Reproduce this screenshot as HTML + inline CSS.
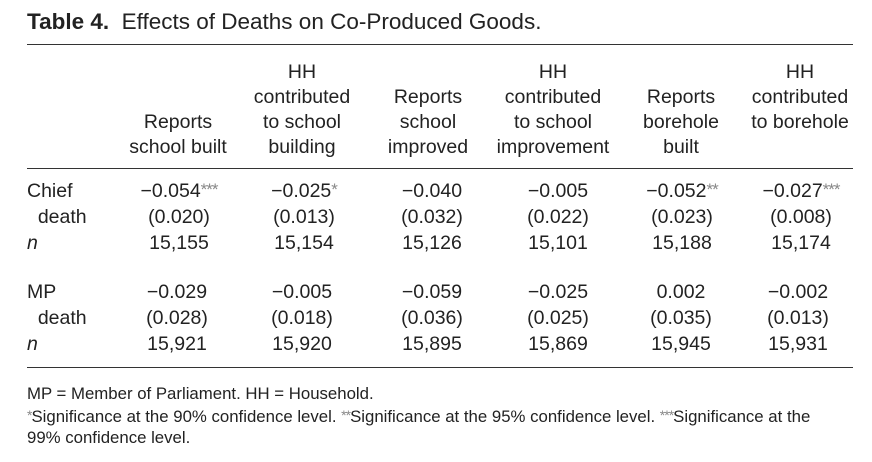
<!DOCTYPE html>
<html><head><meta charset="utf-8"><style>
body{margin:0;width:872px;height:462px;background:#fff;position:relative;overflow:hidden;font-family:"Liberation Sans",sans-serif;color:#222}
.t{position:absolute;white-space:nowrap;font-size:19.5px;line-height:25px}
.c{transform:translateX(-50%);text-align:center}
.rule{position:absolute;left:27px;width:826px;height:1.3px;background:#333}
.s{color:#888;font-size:17px;vertical-align:2px;line-height:0;letter-spacing:-1px}
.f{position:absolute;left:27px;font-size:16.8px;white-space:nowrap;line-height:21px}
.f .s{font-size:14px}
</style></head><body>
<div class="t" style="left:27px;top:8px;font-size:22.5px;line-height:28px"><b>Table 4.</b>&nbsp; Effects of Deaths on Co-Produced Goods.</div>
<div class="rule" style="top:44px"></div>
<div class="t c" style="left:178px;top:110px">Reports<br>school built</div>
<div class="t c" style="left:302px;top:60px">HH<br>contributed<br>to school<br>building</div>
<div class="t c" style="left:428px;top:85px">Reports<br>school<br>improved</div>
<div class="t c" style="left:553px;top:60px">HH<br>contributed<br>to school<br>improvement</div>
<div class="t c" style="left:681px;top:85px">Reports<br>borehole<br>built</div>
<div class="t c" style="left:800px;top:60px">HH<br>contributed<br>to borehole</div>
<div class="rule" style="top:168px"></div>

<div class="t" style="left:27px;top:178px;line-height:26px">Chief<br>&nbsp;&nbsp;death<br><i>n</i></div>
<div class="t" style="left:27px;top:279px;line-height:26px">MP<br>&nbsp;&nbsp;death<br><i>n</i></div>

<div class="t c" style="left:179px;top:178px;line-height:26px">−0.054<span class="s">***</span><br>(0.020)<br>15,155</div>
<div class="t c" style="left:304px;top:178px;line-height:26px">−0.025<span class="s">*</span><br>(0.013)<br>15,154</div>
<div class="t c" style="left:432px;top:178px;line-height:26px">−0.040<br>(0.032)<br>15,126</div>
<div class="t c" style="left:558px;top:178px;line-height:26px">−0.005<br>(0.022)<br>15,101</div>
<div class="t c" style="left:682px;top:178px;line-height:26px">−0.052<span class="s">**</span><br>(0.023)<br>15,188</div>
<div class="t c" style="left:801px;top:178px;line-height:26px">−0.027<span class="s">***</span><br>(0.008)<br>15,174</div>

<div class="t c" style="left:177px;top:279px;line-height:26px">−0.029<br>(0.028)<br>15,921</div>
<div class="t c" style="left:302px;top:279px;line-height:26px">−0.005<br>(0.018)<br>15,920</div>
<div class="t c" style="left:432px;top:279px;line-height:26px">−0.059<br>(0.036)<br>15,895</div>
<div class="t c" style="left:558px;top:279px;line-height:26px">−0.025<br>(0.025)<br>15,869</div>
<div class="t c" style="left:681px;top:279px;line-height:26px">0.002<br>(0.035)<br>15,945</div>
<div class="t c" style="left:798px;top:279px;line-height:26px">−0.002<br>(0.013)<br>15,931</div>

<div class="rule" style="top:367px"></div>
<div class="f" style="top:383px">MP = Member of Parliament. HH = Household.</div>
<div class="f" style="top:406px"><span class="s">*</span>Significance at the 90% confidence level. <span class="s">**</span>Significance at the 95% confidence level. <span class="s">***</span>Significance at the<br>99% confidence level.</div>
</body></html>
